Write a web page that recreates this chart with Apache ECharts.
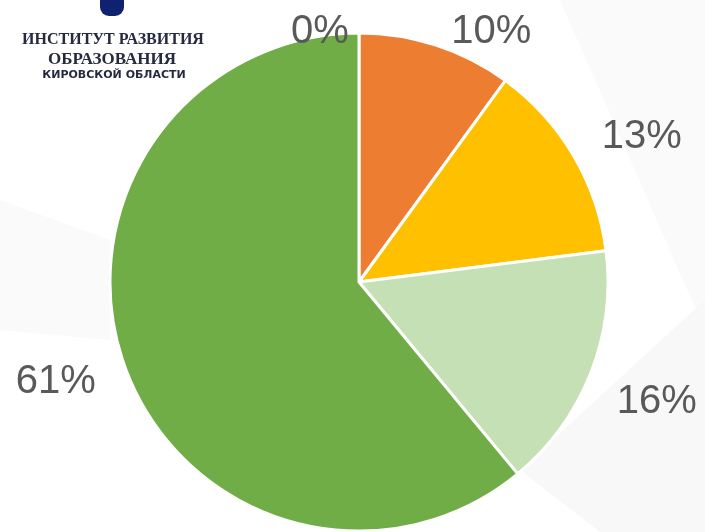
<!DOCTYPE html>
<html>
<head>
<meta charset="utf-8">
<script src="https://cdn.jsdelivr.net/npm/echarts@6/dist/echarts.min.js"></script>
<style>html,body{margin:0;padding:0;background:#fff;}#c{width:705px;height:532px;}</style>
</head>
<body>
<div id="c"></div>
<script>
const categories = ['Категория 1', 'Категория 2', 'Категория 3', 'Категория 4', 'Категория 5'];
const values = [0, 10, 13, 16, 61];
const colors = ['#4472C4', '#ED7D31', '#FFC000', '#C5E0B4', '#70AD47'];

const CX = 359, CY = 282, R = 249, LD = 318;
// small nudges for label placement
const labelNudge = [[-39, 0], [34, 0], [9, 17], [2, 3], [-4, -8]];

const total = values.reduce((a, b) => a + b, 0);
function midAngle(i) {
  let s = 0;
  for (let k = 0; k < i; k++) s += values[k];
  return ((s + values[i] / 2) / total) * Math.PI * 2;
}

const chart = echarts.init(document.getElementById('c'), null, {renderer: 'canvas'});
chart.setOption({
  backgroundColor: '#ffffff',
  animation: false,
  graphic: [
    {type: 'polygon', z: -10, shape: {points: [[560, 0], [705, 0], [705, 330]]}, style: {fill: '#fafafa'}},
    {type: 'polygon', z: -10, shape: {points: [[0, 200], [110, 240], [110, 340], [0, 330]]}, style: {fill: '#fafafa'}},
    {type: 'polygon', z: -10, shape: {points: [[520, 470], [705, 300], [705, 532], [600, 532]]}, style: {fill: '#f8f8f8'}},
    {type: 'rect', shape: {x: 100, y: -12, width: 24, height: 28, r: [0, 0, 9, 9]}, style: {fill: '#0f2270'}},
    {type: 'text', x: 113, y: 40, style: {text: 'ИНСТИТУТ РАЗВИТИЯ', font: 'bold 16px "Liberation Serif"', fill: '#262a40', align: 'center', verticalAlign: 'middle'}},
    {type: 'text', x: 112, y: 60, style: {text: 'ОБРАЗОВАНИЯ', font: 'bold 17px "Liberation Serif"', fill: '#262a40', align: 'center', verticalAlign: 'middle'}},
    {type: 'text', x: 114, y: 75, style: {text: 'КИРОВСКОЙ ОБЛАСТИ', font: 'bold 11px "DejaVu Sans"', fill: '#262a40', align: 'center', verticalAlign: 'middle'}}
  ],
  series: [{
    type: 'pie',
    center: [CX, CY],
    radius: R,
    startAngle: 90,
    clockwise: true,
    minAngle: 0,
    avoidLabelOverlap: false,
    silent: true,
    itemStyle: {borderColor: '#ffffff', borderWidth: 3},
    label: {
      show: true,
      position: 'outside',
      formatter: p => Math.round(p.percent) + '%',
      fontFamily: '"Liberation Sans", Arial, sans-serif',
      fontSize: 40,
      color: '#595959'
    },
    labelLine: {show: false},
    labelLayout: function (params) {
      const i = params.dataIndex;
      const a = midAngle(i);
      let x = CX + LD * Math.sin(a);
      let y = CY - LD * Math.cos(a);
      if (y < 32) y = 32;
      x += labelNudge[i][0];
      y += labelNudge[i][1];
      return {x: x, y: y, align: 'center', verticalAlign: 'middle'};
    },
    data: categories.map((c, i) => ({name: c, value: values[i], itemStyle: {color: colors[i]}}))
  }]
});
</script>
</body>
</html>
